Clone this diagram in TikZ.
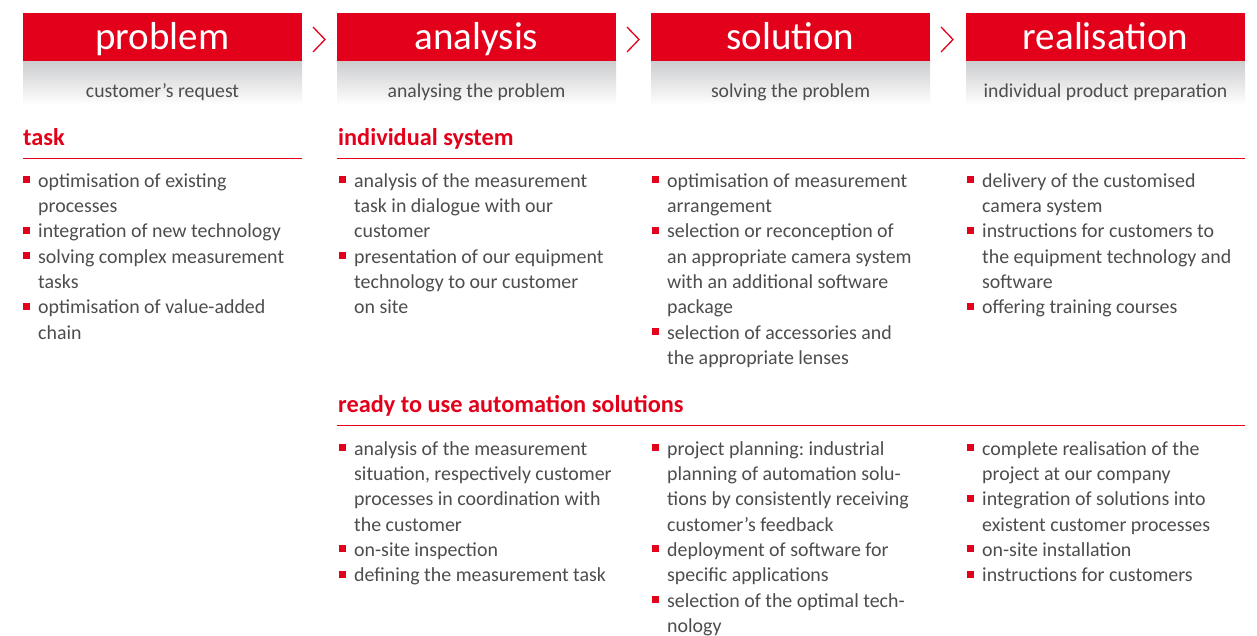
\documentclass[tikz,border=0pt]{standalone}
\usepackage{fontspec}
\setmainfont{Carlito}
\usetikzlibrary{calc}
\frenchspacing
\definecolor{brand}{HTML}{E2001A}
\definecolor{bodytext}{HTML}{4D4D4D}
\definecolor{gradtop}{HTML}{CDCED0}
\tikzset{
  hdrbox/.style={draw=none, fill=brand, minimum width=279pt, minimum height=49pt, inner sep=0pt, outer sep=0pt},
  gradbox/.style={draw=none, top color=gradtop, bottom color=white, minimum width=279pt, minimum height=43pt, inner sep=0pt, outer sep=0pt},
  hdrtext/.style={text=white, inner sep=0pt, font=\fontsize{39}{41}\selectfont},
  subtext/.style={text=bodytext, inner sep=0pt, font=\fontsize{19.7}{24}\selectfont},
  heading/.style={text=brand, inner sep=0pt, font=\fontsize{24.3}{28}\selectfont\bfseries},
  itemtext/.style={text=bodytext, inner sep=0pt, align=left, font=\fontsize{19.9}{25.3}\selectfont},
  chev/.style={draw=brand, line width=1.3pt},
  rulered/.style={draw=brand, line width=1pt},
  bulletsq/.style={fill=brand}
}
\newcommand\phase[4]{%
  \node[hdrbox, anchor=north west] (#1) at (#2,13) {};
  \node[gradbox, anchor=north west] (#1sub) at (#2,62) {};
  \node[hdrtext, anchor=base] (#1t) at (#2+139.5,50) {#3};
  \node[subtext, anchor=base] (#1s) at (#2+139.5,98) {#4};
}
\newcommand\bitem[4]{%
  \node[itemtext, anchor=north west] (#1) at (#2,#3-16) {\rule{0pt}{16pt}#4};
  \fill[bulletsq] ($(#1.north west)+(-15.5,5)$) rectangle ++(7,7);
}
\begin{document}
\begin{tikzpicture}[x=1pt,y=-1pt]
\useasboundingbox[fill=white] (0,0) rectangle (1257,636);

\phase{problem}{23}{problem}{customer’s request}
\phase{analysis}{337}{analysis}{analysing the problem}
\phase{solution}{651}{solution}{solving the problem}
\phase{realisation}{966}{realisation}{individual product preparation}

\draw[chev] ($(problem.north east)+(11,14)$) -- ++(12,12.5) -- ++(-12,12.5);
\draw[chev] ($(analysis.north east)+(11,14)$) -- ++(12,12.5) -- ++(-12,12.5);
\draw[chev] ($(solution.north east)+(11,14)$) -- ++(12,12.5) -- ++(-12,12.5);

\node[heading, anchor=base west] (task) at (23,146) {task};
\draw[rulered] (23,159) -- (302,159);
\node[heading, anchor=base west] (indsys) at (338,146) {individual system};
\draw[rulered] (337,159) -- (1245,159);
\node[heading, anchor=base west] (ready) at (338,412) {ready to use automation solutions};
\draw[rulered] (337,425) -- (1245,425);

% column 1
\bitem{a1}{38}{187}{optimisation of existing\\processes}
\bitem{a2}{38}{237.6}{integration of new technology}
\bitem{a3}{38}{262.9}{solving complex measurement\\tasks}
\bitem{a4}{38}{313.5}{optimisation of value-added\\chain}

% column 2 upper
\bitem{b1}{354}{187}{analysis of the measurement\\task in dialogue with our\\customer}
\bitem{b2}{354}{262.9}{presentation of our equipment\\technology to our customer\\on site}

% column 3 upper
\bitem{c1}{667}{187}{optimisation of measurement\\arrangement}
\bitem{c2}{667}{237.6}{selection or reconception of\\an appropriate camera system\\with an additional software\\package}
\bitem{c3}{667}{338.8}{selection of accessories and\\the appropriate lenses}

% column 4 upper
\bitem{d1}{982}{187}{delivery of the customised\\camera system}
\bitem{d2}{982}{237.6}{instructions for customers to\\the equipment technology and\\software}
\bitem{d3}{982}{313.5}{offering training courses}

% lower section
\bitem{e1}{354}{455}{analysis of the measurement\\situation, respectively customer\\processes in coordination with\\the customer}
\bitem{e2}{354}{556.2}{on-site inspection}
\bitem{e3}{354}{581.5}{defining the measurement task}

\bitem{f1}{667}{455}{project planning: industrial\\planning of automation solu-\\tions by consistently receiving\\customer’s feedback}
\bitem{f2}{667}{556.2}{deployment of software for\\specific applications}
\bitem{f3}{667}{606.8}{selection of the optimal tech-\\nology}

\bitem{g1}{982}{455}{complete realisation of the\\project at our company}
\bitem{g2}{982}{505.6}{integration of solutions into\\existent customer processes}
\bitem{g3}{982}{556.2}{on-site installation}
\bitem{g4}{982}{581.5}{instructions for customers}
\end{tikzpicture}
\end{document}
